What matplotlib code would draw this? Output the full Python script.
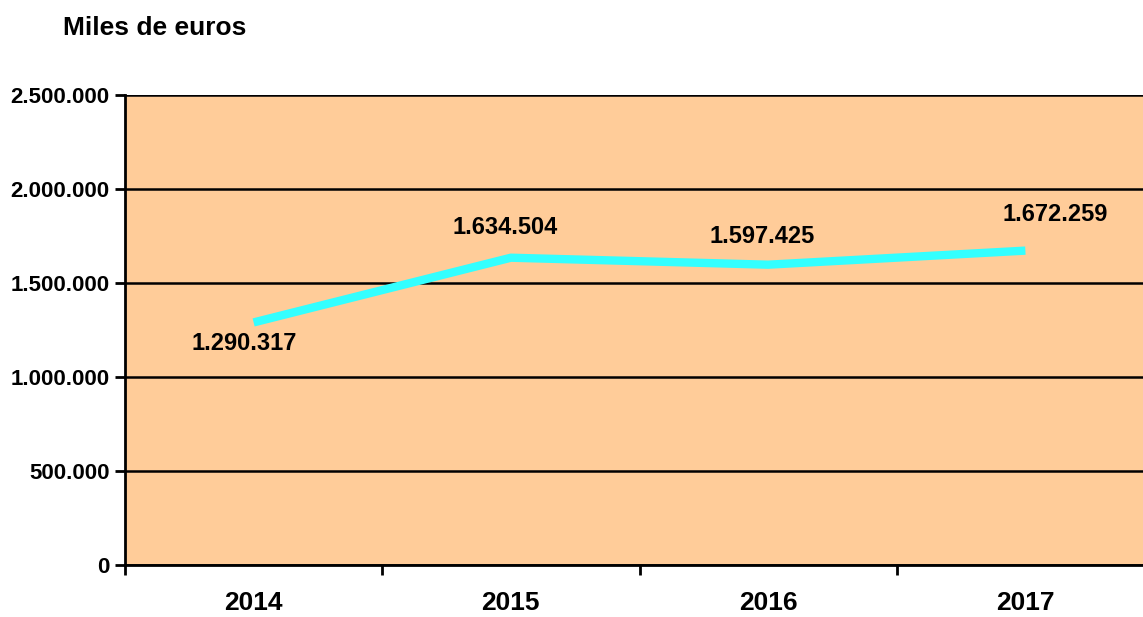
import matplotlib.pyplot as plt
from matplotlib.ticker import FuncFormatter

# datos
anios = ['2014', '2015', '2016', '2017']
valores = [1290317, 1634504, 1597425, 1672259]
etiquetas = ['1.290.317', '1.634.504', '1.597.425', '1.672.259']
# desplazamiento de las etiquetas (px)
offs = [(-9, -21), (-6, 30), (-6, 28), (30, 36)]

plt.rcParams['font.family'] = ['Liberation Sans', 'DejaVu Sans']
plt.rcParams['font.weight'] = 'bold'

fig = plt.figure(figsize=(11.43, 6.17), dpi=100)
ax = fig.add_axes([125/1143, 52/617, 1029/1143, 470/617])
ax.set_facecolor('#FFCC99')

x = list(range(len(anios)))
ax.plot(x, valores, color='#33FFFF', lw=6, solid_capstyle='butt', zorder=3)

px = 72/100
for i in x:
    ax.annotate(etiquetas[i], (x[i], valores[i]),
                xytext=(offs[i][0]*px, offs[i][1]*px), textcoords='offset points',
                ha='center', va='center', fontsize=17, fontweight='bold')

ax.set_xlim(-0.5, 3.5)
ax.set_ylim(0, 2500000)
ax.set_yticks([0, 500000, 1000000, 1500000, 2000000, 2500000])
ax.yaxis.set_major_formatter(FuncFormatter(lambda v, p: f'{int(v):,}'.replace(',', '.')))
ax.yaxis.grid(True, color='black', lw=1.8)
ax.set_axisbelow(False)

ax.set_xticks([-0.5, 0.5, 1.5, 2.5])
ax.set_xticklabels([])
ax.set_xticks(x, minor=True)
ax.set_xticklabels(anios, minor=True, fontsize=19, fontweight='bold')
ax.tick_params(axis='x', which='minor', length=0, pad=19)
ax.tick_params(axis='x', which='major', length=7, width=2, direction='out')
ax.tick_params(axis='y', length=7, width=2, labelsize=16, pad=4)

for s in ['top', 'right']:
    ax.spines[s].set_visible(False)
ax.spines['left'].set_linewidth(2)
ax.spines['bottom'].set_linewidth(2)

fig.text(63/1143, 1-28/617, 'Miles de euros', ha='left', va='center',
         fontsize=19, fontweight='bold')

fig.savefig('out.png', dpi=100)
